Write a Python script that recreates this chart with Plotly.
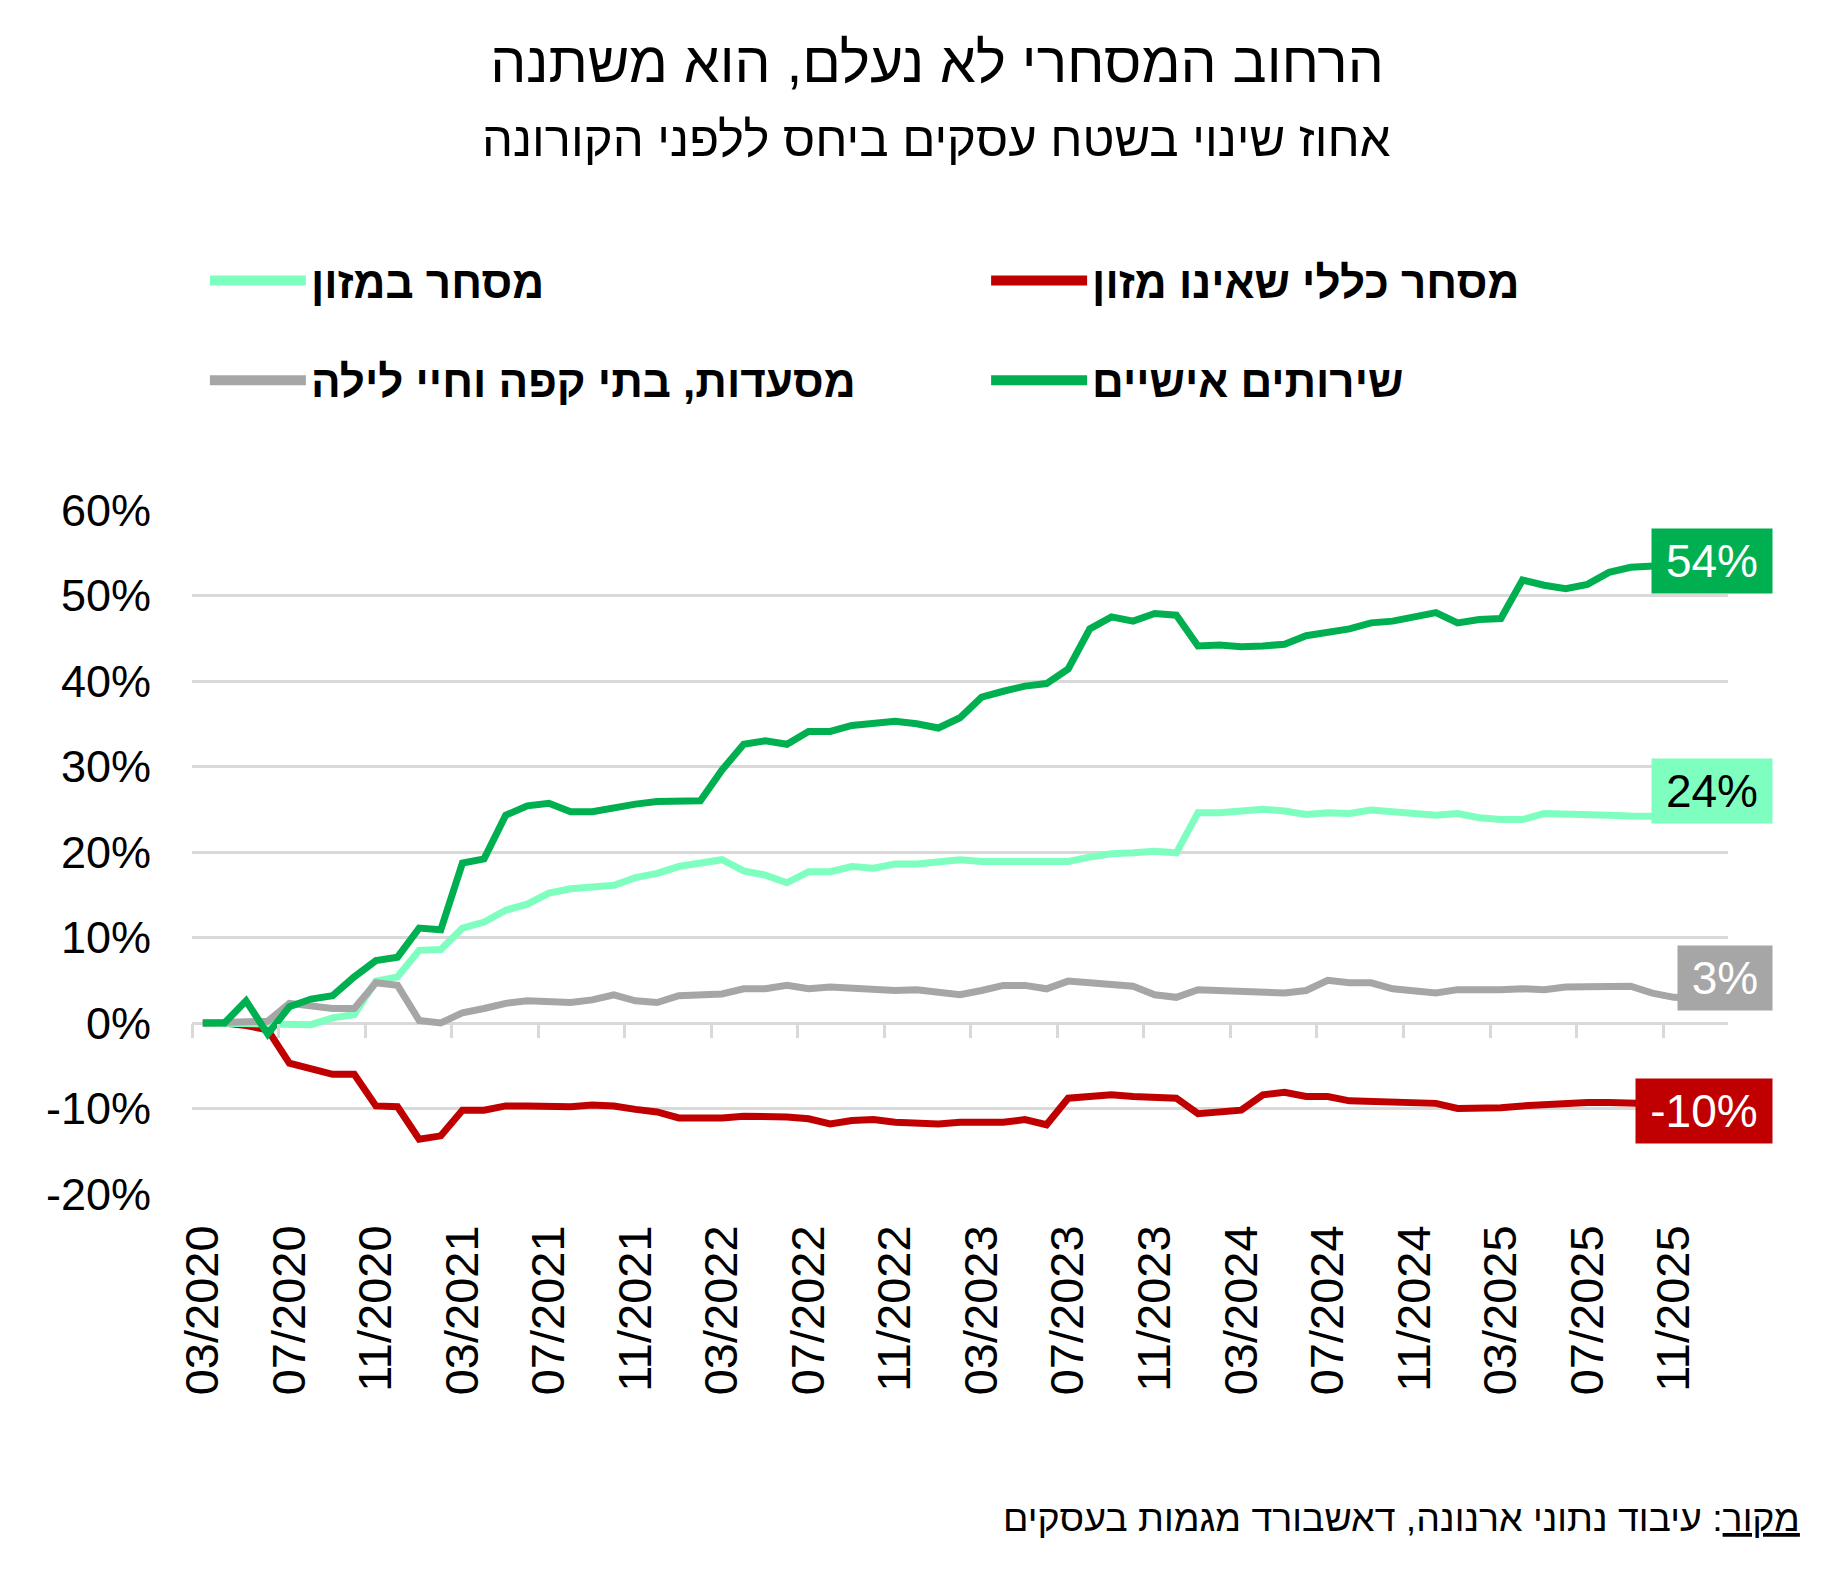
import numpy as np
import pandas as pd
import plotly.graph_objects as go

# ---------------- data ----------------
months = pd.date_range("2020-03-01", periods=71, freq="MS").strftime("%m/%Y").tolist()

food = [0, 0, 0, 0, -0.1, -0.2, 0.6, 1.0, 4.9, 5.4, 8.5, 8.6, 11.1, 11.8, 13.2, 13.9, 15.2, 15.7, 15.9,
        16.1, 17.0, 17.5, 18.3, 18.8, 19.1, 17.8, 17.3, 16.4, 17.7, 17.7, 18.3, 18.1, 18.6, 18.6, 18.8, 19.1, 18.9,
        18.9, 19.1, 19.1, 18.9, 19.4, 19.8, 19.9, 20.1, 19.9, 24.6, 24.6, 24.7, 25.0, 24.8, 24.4, 24.6, 24.5, 24.9, 24.7,
        24.5, 24.3, 24.5, 24.0, 23.8, 23.8, 24.5, 24.5, 24.4, 24.3, 24.2, 24.2, 24.1, 24.1, 24.1]

nonfood = [0, 0, -0.3, -0.8, -4.7, -5.3, -6.0, -6.0, -9.7, -9.8, -13.6, -13.2, -10.2, -10.2, -9.7, -9.7, -9.8, -9.8, -9.6,
           -9.7, -10.1, -10.4, -11.1, -11.2, -11.1, -10.9, -10.9, -11.0, -11.2, -11.8, -11.4, -11.3, -11.6, -11.8, -11.8, -11.6, -11.6,
           -11.6, -11.3, -11.9, -8.8, -8.5, -8.4, -8.6, -8.7, -8.8, -10.6, -10.4, -10.2, -8.4, -8.1, -8.6, -8.6, -9.1, -9.2, -9.4,
           -9.4, -9.4, -10.0, -10.0, -9.9, -9.7, -9.5, -9.3, -9.3, -9.3, -9.3, -9.4, -9.5, -9.6, -9.6]

restaurants = [0, 0.1, 0.1, 0.2, 2.3, 1.9, 1.7, 1.7, 4.7, 4.4, 0.3, 0, 1.2, 1.7, 2.3, 2.6, 2.4, 2.4, 2.7,
               3.3, 2.6, 2.4, 3.2, 3.2, 3.4, 4.0, 4.0, 4.4, 4.0, 4.2, 4.0, 4.0, 3.8, 3.9, 3.5, 3.3, 3.8,
               4.4, 4.4, 4.0, 4.9, 4.7, 4.7, 4.3, 3.3, 3.0, 3.9, 3.8, 3.7, 3.4, 3.5, 3.8, 5.0, 4.7, 4.7, 4.0,
               3.7, 3.5, 3.9, 3.8, 3.9, 4.0, 3.9, 4.2, 4.3, 4.3, 4.3, 3.5, 3.0, 2.9, 2.8]

personal = [0, 0, 2.6, -1.3, 1.9, 2.8, 3.2, 5.4, 7.3, 7.7, 11.1, 10.9, 18.7, 19.2, 24.3, 25.4, 25.7, 24.7, 24.7,
            25.2, 25.6, 25.9, 25.9, 26.0, 29.6, 32.6, 33.0, 32.6, 34.1, 34.1, 34.8, 35.1, 35.3, 35.0, 34.5, 35.7, 38.1,
            38.8, 39.4, 39.7, 41.4, 46.1, 47.5, 47.0, 47.9, 47.7, 44.1, 44.2, 44.0, 44.1, 44.3, 45.3, 45.7, 46.1, 46.8, 47.0,
            47.5, 48.0, 46.8, 47.2, 47.3, 51.8, 51.2, 50.8, 51.3, 52.7, 53.3, 53.4, 53.5, 53.7, 54.0]

series_names = ["מסחר כללי שאינו מזון", "מסחר במזון", "מסעדות, בתי קפה וחיי לילה", "שירותים אישיים"]
y_ticks = list(range(-20, 61, 10))

title_text = "הרחוב המסחרי לא נעלם, הוא משתנה"
subtitle_text = "אחוז שינוי בשטח עסקים ביחס ללפני הקורונה"
source_text = "<u>מקור</u>: עיבוד נתוני ארנונה, דאשבורד מגמות בעסקים"

# ---------------- style ----------------
RED = "#C00000"
LIGHT = "#7FFFBF"
GRAY = "#A6A6A6"
GREEN = "#00B050"
GRID = "#D9D9D9"
FONT = "Liberation Sans, Arial, sans-serif"

x = np.arange(len(months))
series = [nonfood, food, restaurants, personal]
colors = [RED, LIGHT, GRAY, GREEN]
legends = ["legend2", "legend", "legend3", "legend4"]
xaxes = ["x", "x", "x", "x2"]
label_font_colors = ["white", "black", "white", "white"]
label_widths = [128, 112, 86, 112]
label_yshift = [-6, 26, 21, 0]

fig = go.Figure()
for s, n, c, xa in zip(series, series_names, colors, xaxes):
    fig.add_trace(go.Scatter(
        x=x, y=s, name=n, mode="lines", xaxis=xa,
        line=dict(color=c, width=7),
        showlegend=False, hoverinfo="skip",
    ))

# legend keys (thicker key lines, as in the original)
for n, c, lg in zip(series_names, colors, legends):
    fig.add_trace(go.Scatter(
        x=[None], y=[None], name=n, mode="lines",
        line=dict(color=c, width=10), legend=lg, hoverinfo="skip",
    ))

# end-of-series labels
for s, c, fc, w, ys in zip(series, colors, label_font_colors, label_widths, label_yshift):
    fig.add_annotation(
        x=x[-1], y=s[-1], xref="x", yref="y",
        text=f"{int(round(s[-1]))}%", showarrow=False,
        xanchor="right", yanchor="middle", xshift=56, yshift=ys,
        bgcolor=c, font=dict(family=FONT, size=46, color=fc),
        width=w, height=56, borderpad=4, align="center",
    )

# subtitle and source
fig.add_annotation(
    text=subtitle_text, xref="paper", yref="paper", x=0.4846, y=1.543,
    xanchor="center", yanchor="middle", showarrow=False,
    font=dict(family=FONT, size=49, color="black"),
)
fig.add_annotation(
    text=source_text, xref="paper", yref="paper", x=1.048, y=-0.473,
    xanchor="right", yanchor="middle", showarrow=False,
    font=dict(family=FONT, size=37.5, color="black"),
)

legend_common = dict(
    orientation="h", xanchor="left", yanchor="middle", itemwidth=96,
    font=dict(family=FONT, size=44, color="black", weight="bold"),
    bgcolor="rgba(0,0,0,0)", itemclick=False, itemdoubleclick=False,
)
LX_LEFT, LX_RIGHT = 0.0084, 0.517
LY_TOP, LY_BOTTOM = 1.335, 1.189

fig.update_layout(
    width=1834, height=1576,
    margin=dict(l=184, r=114, t=502, b=390),
    paper_bgcolor="white", plot_bgcolor="white",
    showlegend=True,
    title=dict(
        text=title_text, x=929 / 1834, y=1 - 54 / 1576, xref="container", yref="container",
        xanchor="center", yanchor="middle",
        font=dict(family=FONT, size=57, color="black"),
    ),
    legend=dict(x=LX_LEFT, y=LY_TOP, **legend_common),
    legend2=dict(x=LX_RIGHT, y=LY_TOP, **legend_common),
    legend3=dict(x=LX_LEFT, y=LY_BOTTOM, **legend_common),
    legend4=dict(x=LX_RIGHT, y=LY_BOTTOM, **legend_common),
    xaxis=dict(
        range=[-0.5, 70.5], tickmode="array",
        tickvals=x[::4].tolist(), ticktext=months[::4],
        tickangle=-90, ticks="", showgrid=False, zeroline=False, showline=False,
        tickfont=dict(family=FONT, size=47, color="black"),
        ticklabelstandoff=21,
    ),
    xaxis2=dict(
        overlaying="x", matches="x", anchor="free", position=0.25, side="bottom",
        tickmode="array", tickvals=np.arange(-0.5, 68, 4).tolist(),
        ticks="outside", ticklen=14, tickwidth=3, tickcolor=GRID,
        showticklabels=False, showgrid=False, zeroline=False, showline=False,
    ),
    yaxis=dict(
        range=[-20, 60], tickmode="array", tickvals=y_ticks,
        ticktext=[f"{v}%" for v in y_ticks],
        showgrid=True, gridcolor=GRID, gridwidth=3, zeroline=False, showline=False,
        ticks="", tickfont=dict(family=FONT, size=45, color="black"),
        ticklabelstandoff=40,
    ),
)

fig.write_html("out.html")
